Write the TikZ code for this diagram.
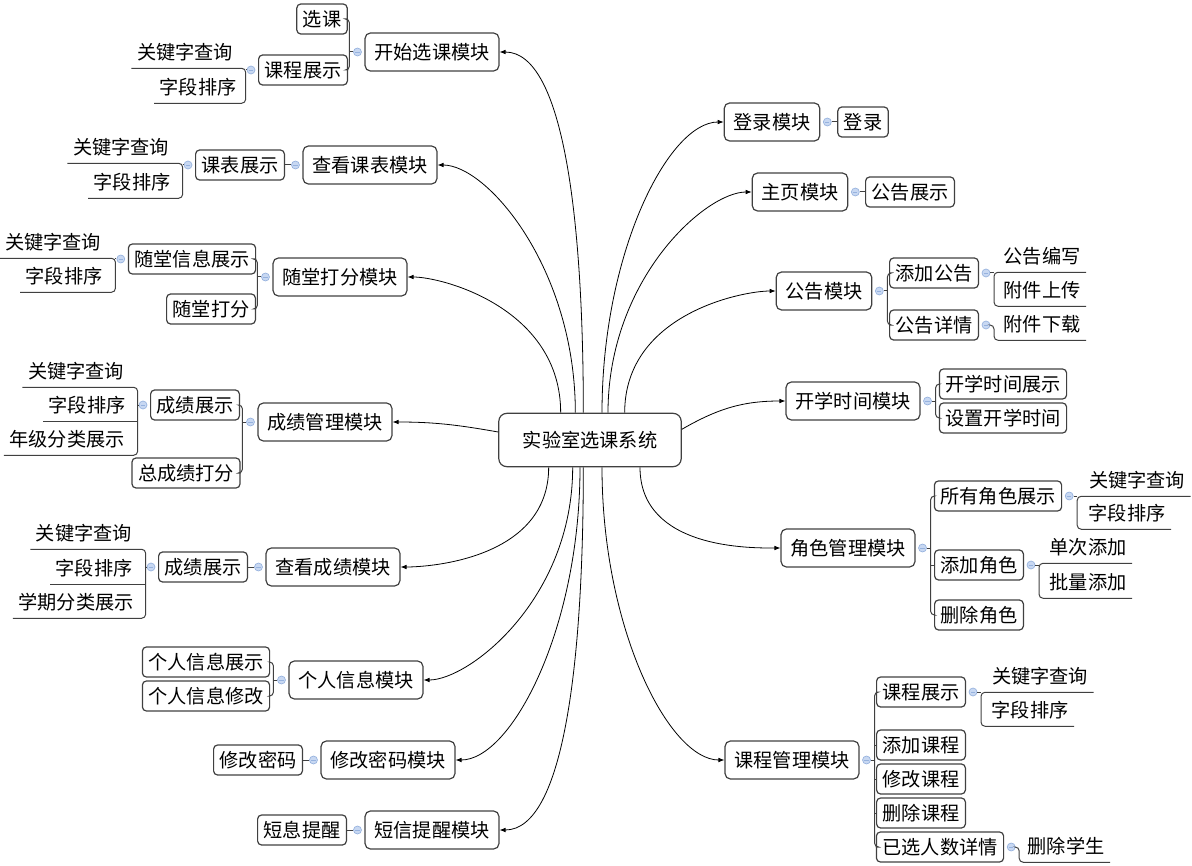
\documentclass[tikz,border=0pt]{standalone}
\usepackage{fontspec}
\setmainfont{Noto Sans CJK SC}
\usetikzlibrary{arrows.meta}
\usetikzlibrary{positioning}
\definecolor{knobfill}{RGB}{200,216,242}
\definecolor{knobline}{RGB}{150,178,222}

\tikzset{
	rootbox/.style={draw=black!75, line width=0.9pt, rounded corners=6pt, minimum height=40pt, inner xsep=18pt},
	modbox/.style={draw=black!75, line width=0.9pt, rounded corners=4pt, minimum height=28.5pt, inner xsep=7pt},
	subbox/.style={draw=black!75, line width=0.9pt, rounded corners=3pt, minimum height=22.5pt, inner xsep=4.5pt},
	leaf/.style={minimum height=24pt, inner xsep=4pt},
	knob/.style={circle, draw=knobline, fill=knobfill, line width=0.5pt, minimum size=6pt, inner sep=0pt,
		path picture={\draw[knobline, line width=0.5pt] ([xshift=-1.6pt]path picture bounding box.center) -- ([xshift=1.6pt]path picture bounding box.center);}},
	link/.style={-{Latex[length=4.5pt,width=3.5pt]}, line width=0.6pt, out looseness=1.3, in looseness=0.45},
	tie/.style={draw=black!75, line width=0.75pt, rounded corners=3pt}
}

\begin{document}
\begin{tikzpicture}[x=0.75pt, y=0.75pt, font=\fontsize{14.4}{17}\selectfont]
	\useasboundingbox (0,0) rectangle (1192,-866);
	\node[rootbox] (root) at (590,-440) {实验室选课系统};
	% left modules
	\node[modbox] (ks) at (432,-52) {开始选课模块};
	\node[modbox] (kb) at (370,-165) {查看课表模块};
	\node[modbox] (st) at (340,-277) {随堂打分模块};
	\node[modbox] (cg) at (325,-422) {成绩管理模块};
	\node[modbox] (ck) at (333,-567) {查看成绩模块};
	\node[modbox] (gr) at (356,-680) {个人信息模块};
	\node[modbox] (mm) at (388,-760) {修改密码模块};
	\node[modbox] (dx) at (432,-830) {短信提醒模块};
	% right modules
	\node[modbox] (dl) at (772,-122) {登录模块};
	\node[modbox] (zy) at (800,-192) {主页模块};
	\node[modbox] (gg) at (824,-291) {公告模块};
	\node[modbox] (kx) at (853,-401) {开学时间模块};
	\node[modbox] (js) at (848,-548) {角色管理模块};
	\node[modbox] (kc) at (792,-760) {课程管理模块};
	
	\draw[link] ([xshift=-5pt]root.north) to[out=90,in=0] (ks.east);
	\draw[link] ([xshift=-11pt]root.north) to[out=90,in=0] (kb.east);
	\draw[link] ([xshift=-22pt]root.north) to[out=90,in=0] (st.east);
	\draw[link, looseness=1] ([yshift=6pt]root.west) to[out=170,in=0] (cg.east);
	\draw[link] ([xshift=-31pt]root.south) to[out=-90,in=0] (ck.east);
	\draw[link] ([xshift=-13pt]root.south) to[out=-90,in=0] (gr.east);
	\draw[link] ([xshift=-7.5pt]root.south) to[out=-90,in=0] (mm.east);
	\draw[link] ([xshift=-5pt]root.south) to[out=-90,in=0] (dx.east);
	\draw[link] ([xshift=9pt]root.north) to[out=90,in=180] (dl.west);
	\draw[link] ([xshift=13.5pt]root.north) to[out=90,in=180] (zy.west);
	\draw[link] ([xshift=26pt]root.north) to[out=90,in=180] (gg.west);
	\draw[link, looseness=1] ([yshift=8pt]root.east) to[out=30,in=180] (kx.west);
	\draw[link] ([xshift=37.5pt]root.south) to[out=-90,in=180] (js.west);
	\draw[link] ([xshift=9pt]root.south) to[out=-90,in=180] (kc.west);
	
	% 开始选课模块
	\node[knob, left=2pt of ks] (ks0) {};
	\node[subbox] (ks1) at (322,-19) {选课};
	\node[subbox] (ks2) at (303,-70) {课程展示};
	\coordinate (ksb) at ([xshift=-6pt]ks0.center);
	\draw[tie] (ks0.west) -- (ksb);
	\draw[tie] (ks1.east) -| (ksb) |- (ks2.east);
	\node[knob, left=2pt of ks2] (ks20) {};
	\node[leaf] (ks21) at (185,-52) {关键字查询};
	\node[leaf] (ks22) at (198,-87) {字段排序};
	\coordinate (ks2b) at ([xshift=-4pt]ks20.center);
	\draw[tie] (ks20.west) -- (ks2b);
	\draw[tie] (ks21.south west) -- (ks21.south west -| ks2b) -- (ks22.south west -| ks2b) -- (ks22.south west);
	
	% 查看课表模块
	\node[knob, left=2pt of kb] (kb0) {};
	\node[subbox] (kb1) at (240,-165) {课表展示};
	\draw[tie] (kb0.west) -- (kb1.east);
	\node[knob, left=2pt of kb1] (kb10) {};
	\node[leaf] (kb11) at (121,-147) {关键字查询};
	\node[leaf] (kb12) at (132,-182) {字段排序};
	\coordinate (kb1b) at ([xshift=-4pt]kb10.center);
	\draw[tie] (kb10.west) -- (kb1b);
	\draw[tie] (kb11.south west) -- (kb11.south west -| kb1b) -- (kb12.south west -| kb1b) -- (kb12.south west);
	
	% 随堂打分模块
	\node[knob, left=2pt of st] (st0) {};
	\node[subbox] (st1) at (192,-259) {随堂信息展示};
	\node[subbox] (st2) at (211,-309) {随堂打分};
	\coordinate (stb) at ([xshift=-6pt]st0.center);
	\draw[tie] (st0.west) -- (stb);
	\draw[tie] (st1.east) -| (stb) |- (st2.east);
	\node[knob, left=2pt of st1] (st10) {};
	\node[leaf] (st11) at (53,-242) {关键字查询};
	\node[leaf] (st12) at (64,-276) {字段排序};
	\coordinate (st1b) at ([xshift=-4pt]st10.center);
	\draw[tie] (st10.west) -- (st1b);
	\draw[tie] (st11.south west) -- (st11.south west -| st1b) -- (st12.south west -| st1b) -- (st12.south west);
	
	% 成绩管理模块
	\node[knob, left=2pt of cg] (cg0) {};
	\node[subbox] (cg1) at (195,-405) {成绩展示};
	\node[subbox] (cg2) at (186,-473) {总成绩打分};
	\coordinate (cgb) at ([xshift=-6pt]cg0.center);
	\draw[tie] (cg0.west) -- (cgb);
	\draw[tie] (cg1.east) -| (cgb) |- (cg2.east);
	\node[knob, left=2pt of cg1] (cg10) {};
	\node[leaf] (cg11) at (76,-371) {关键字查询};
	\node[leaf] (cg12) at (87,-405) {字段排序};
	\node[leaf] (cg13) at (67,-439) {年级分类展示};
	\coordinate (cg1b) at ([xshift=-4pt]cg10.center);
	\draw[tie] (cg10.west) -- (cg1b);
	\draw[tie] (cg11.south west) -- (cg11.south west -| cg1b) -- (cg13.south west -| cg1b) -- (cg13.south west);
	\draw[tie] (cg12.south west) -- (cg12.south west -| cg1b);
	
	% 查看成绩模块
	\node[knob, left=2pt of ck] (ck0) {};
	\node[subbox] (ck1) at (203,-567) {成绩展示};
	\draw[tie] (ck0.west) -- (ck1.east);
	\node[knob, left=2pt of ck1] (ck10) {};
	\node[leaf] (ck11) at (84,-533) {关键字查询};
	\node[leaf] (ck12) at (94,-568) {字段排序};
	\node[leaf] (ck13) at (76,-602) {学期分类展示};
	\coordinate (ck1b) at ([xshift=-4pt]ck10.center);
	\draw[tie] (ck10.west) -- (ck1b);
	\draw[tie] (ck11.south west) -- (ck11.south west -| ck1b) -- (ck13.south west -| ck1b) -- (ck13.south west);
	\draw[tie] (ck12.south west) -- (ck12.south west -| ck1b);
	
	% 个人信息模块
	\node[knob, left=2pt of gr] (gr0) {};
	\node[subbox] (gr1) at (206,-662) {个人信息展示};
	\node[subbox] (gr2) at (206,-696) {个人信息修改};
	\coordinate (grb) at ([xshift=-6pt]gr0.center);
	\draw[tie] (gr0.west) -- (grb);
	\draw[tie] (gr1.east) -| (grb) |- (gr2.east);
	
	% 修改密码模块, 短信提醒模块
	\node[knob, left=2pt of mm] (mm0) {};
	\node[subbox] (mm1) at (258,-760) {修改密码};
	\draw[tie] (mm0.west) -- (mm1.east);
	\node[knob, left=2pt of dx] (dx0) {};
	\node[subbox] (dx1) at (302,-830) {短息提醒};
	\draw[tie] (dx0.west) -- (dx1.east);
	
	% 登录模块, 主页模块
	\node[knob, right=2pt of dl] (dl0) {};
	\node[subbox] (dl1) at (863,-122) {登录};
	\draw[tie] (dl0.east) -- (dl1.west);
	\node[knob, right=2pt of zy] (zy0) {};
	\node[subbox] (zy1) at (910,-192) {公告展示};
	\draw[tie] (zy0.east) -- (zy1.west);
	
	% 公告模块
	\node[knob, right=2pt of gg] (gg0) {};
	\node[subbox] (gg1) at (934,-273) {添加公告};
	\node[subbox] (gg2) at (934,-325) {公告详情};
	\coordinate (ggb) at ([xshift=6pt]gg0.center);
	\draw[tie] (gg0.east) -- (ggb);
	\draw[tie] (gg1.west) -| (ggb) |- (gg2.west);
	\node[knob, right=2pt of gg1] (gg10) {};
	\node[leaf] (gg11) at (1042,-256) {公告编写};
	\node[leaf] (gg12) at (1042,-290) {附件上传};
	\coordinate (gg1b) at ([xshift=6pt]gg10.center);
	\draw[tie] (gg10.east) -- (gg1b);
	\draw[tie] (gg11.south east) -- (gg11.south east -| gg1b) -- (gg12.south east -| gg1b) -- (gg12.south east);
	\node[knob, right=2pt of gg2] (gg20) {};
	\node[leaf] (gg21) at (1042,-324) {附件下载};
	\coordinate (gg2b) at ([xshift=6pt]gg20.center);
	\draw[tie] (gg20.east) -- (gg2b) -- (gg21.south east -| gg2b) -- (gg21.south east);
	
	% 开学时间模块
	\node[knob, right=2pt of kx] (kx0) {};
	\node[subbox] (kx1) at (1003,-384) {开学时间展示};
	\node[subbox] (kx2) at (1003,-418) {设置开学时间};
	\coordinate (kxb) at ([xshift=6pt]kx0.center);
	\draw[tie] (kx0.east) -- (kxb);
	\draw[tie] (kx1.west) -| (kxb) |- (kx2.west);
	
	% 角色管理模块
	\node[knob, right=2pt of js] (js0) {};
	\node[subbox] (js1) at (998,-496) {所有角色展示};
	\node[subbox] (js2) at (979,-565) {添加角色};
	\node[subbox] (js3) at (979,-615) {删除角色};
	\coordinate (jsb) at ([xshift=6pt]js0.center);
	\draw[tie] (js0.east) -- (jsb);
	\draw[tie] (js1.west) -| (jsb) |- (js3.west);
	\draw[tie] (js2.west) -- (js2.west -| jsb);
	\node[knob, right=2pt of js1] (js10) {};
	\node[leaf] (js11) at (1137,-480) {关键字查询};
	\node[leaf] (js12) at (1127,-513) {字段排序};
	\coordinate (js1b) at ([xshift=6pt]js10.center);
	\draw[tie] (js10.east) -- (js1b);
	\draw[tie] (js11.south east) -- (js11.south east -| js1b) -- (js12.south west -| js1b) -- (js12.south east);
	\node[knob, right=2pt of js2] (js20) {};
	\node[leaf] (js21) at (1088,-547) {单次添加};
	\node[leaf] (js22) at (1088,-582) {批量添加};
	\coordinate (js2b) at ([xshift=6pt]js20.center);
	\draw[tie] (js20.east) -- (js2b);
	\draw[tie] (js21.south east) -- (js21.south east -| js2b) -- (js22.south west -| js2b) -- (js22.south east);
	
	% 课程管理模块
	\node[knob, right=2pt of kc] (kc0) {};
	\node[subbox] (kc1) at (921,-692) {课程展示};
	\node[subbox] (kc2) at (921,-745) {添加课程};
	\node[subbox] (kc3) at (921,-779) {修改课程};
	\node[subbox] (kc4) at (921,-813) {删除课程};
	\node[subbox] (kc5) at (940,-847) {已选人数详情};
	\coordinate (kcb) at ([xshift=6pt]kc0.center);
	\draw[tie] (kc0.east) -- (kcb);
	\draw[tie] (kc1.west) -| (kcb) |- (kc5.west);
	\foreach \i in {2,3,4}{
		\draw[tie] (kc\i.west) -- (kc\i.west -| kcb);
	}
	\node[knob, right=2pt of kc1] (kc10) {};
	\node[leaf] (kc11) at (1040,-676) {关键字查询};
	\node[leaf] (kc12) at (1030,-710) {字段排序};
	\coordinate (kc1b) at ([xshift=6pt]kc10.center);
	\draw[tie] (kc10.east) -- (kc1b);
	\draw[tie] (kc11.south east) -- (kc11.south east -| kc1b) -- (kc12.south west -| kc1b) -- (kc12.south east);
	\node[knob, right=2pt of kc5] (kc50) {};
	\node[leaf] (kc51) at (1066,-846) {删除学生};
	\coordinate (kc5b) at ([xshift=6pt]kc50.center);
	\draw[tie] (kc50.east) -- (kc5b) -- (kc51.south west -| kc5b) -- (kc51.south east);
\end{tikzpicture}
\end{document}
